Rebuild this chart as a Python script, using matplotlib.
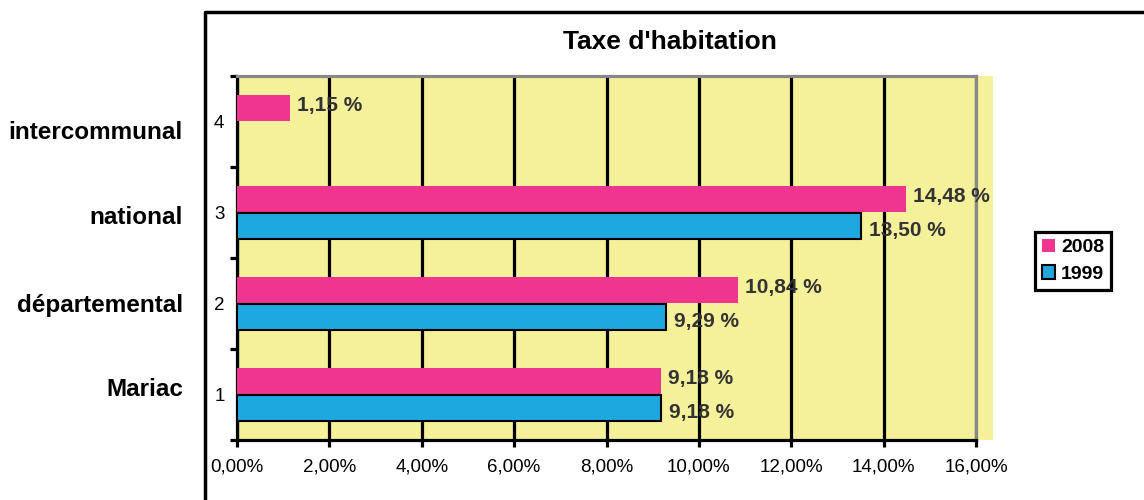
import numpy as np
import matplotlib.pyplot as plt
from matplotlib.patches import Rectangle
from matplotlib.lines import Line2D
from matplotlib.transforms import blended_transform_factory

plt.rcParams['font.family'] = ['Liberation Sans', 'DejaVu Sans']

# data
categories = ['Mariac', 'départemental', 'national', 'intercommunal']
tick_names = ['1', '2', '3', '4']
vals_2008 = [9.18, 10.84, 14.48, 1.15]
vals_1999 = [9.18, 9.29, 13.50, None]
labels_2008 = ['9,18 %', '10,84 %', '14,48 %', '1,15 %']
labels_1999 = ['9,18 %', '9,29 %', '13,50 %', '']

pink = '#EE3590'
blue = '#1EA8E0'
yellow = '#F5F19A'

fig = plt.figure(figsize=(11.44, 5.0), dpi=100)
ax = fig.add_axes([237/1144, 1-440/500, (976-237)/1144, (440-76)/500])

# yellow area, a bit wider than the plot
fig.patches.append(Rectangle((237/1144, 1-440/500), (993-237)/1144, (440-76)/500,
                             transform=fig.transFigure, facecolor=yellow,
                             edgecolor='none', zorder=-5))
ax.set_facecolor('none')

# outer black frame (left and top)
fig.add_artist(Line2D([205/1144, 205/1144, 1.0], [0.0, 1-12/500, 1-12/500],
                      transform=fig.transFigure, color='black', lw=2.5))

y = np.arange(1, 5)
h = 0.286
off = 0.148
for i in range(4):
    ax.barh(y[i] + off, vals_2008[i], height=h, color=pink, edgecolor='none', zorder=3)
    ax.annotate(labels_2008[i], (vals_2008[i], y[i] + off), xytext=(5, 1.5),
                textcoords='offset points', va='center', ha='left',
                fontsize=15, fontweight='bold', color='#333333', zorder=5)
    if vals_1999[i] is not None:
        ax.barh(y[i] - off, vals_1999[i], height=h, color=blue, edgecolor='black',
                linewidth=1.5, zorder=3)
        ax.annotate(labels_1999[i], (vals_1999[i], y[i] - off), xytext=(6, -3.5),
                    textcoords='offset points', va='center', ha='left',
                    fontsize=15, fontweight='bold', color='#333333', zorder=5)

ax.set_xlim(0, 16)
ax.set_ylim(0.5, 4.5)
ticks = np.arange(0, 17, 2)
ax.set_xticks(ticks)
ax.set_xticklabels([('%.2f%%' % v).replace('.', ',') for v in ticks])
ax.xaxis.grid(True, color='black', lw=2.3, zorder=1)
ax.set_axisbelow(True)

ax.set_yticks(y)
ax.set_yticklabels(tick_names)
ax.set_yticks(np.arange(0.5, 4.6, 1), minor=True)
ax.tick_params(axis='y', which='major', length=0, pad=9, labelsize=13.5)
ax.tick_params(axis='y', which='minor', length=5, width=2.3, direction='out')
ax.tick_params(axis='x', length=5, width=2.3, labelsize=13.5, pad=8)

for s in ['left', 'bottom']:
    ax.spines[s].set_color('black')
    ax.spines[s].set_linewidth(2.3)
for s in ['top', 'right']:
    ax.spines[s].set_color('#888888')
    ax.spines[s].set_linewidth(2.3)

# category names
name_shift = [-0.05, 0.02, 0.06, 0.125]
trans = blended_transform_factory(fig.transFigure, ax.transData)
for i, name in enumerate(categories):
    ax.text(183/1144, y[i] - name_shift[i], name, transform=trans,
            ha='right', va='center', fontsize=17.5, fontweight='bold', color='black')

fig.text(670/1144, 1-42/500, "Taxe d'habitation", ha='center', va='center',
         fontsize=19, fontweight='bold')

handles = [Rectangle((0, 0), 1, 1, facecolor=pink, edgecolor='none'),
           Rectangle((0, 0), 1, 1, facecolor=blue, edgecolor='black', lw=1.5)]
leg = fig.legend(handles, ['2008', '1999'], loc='upper left',
                 bbox_to_anchor=(1035/1144, 1-232/500), borderaxespad=0,
                 fancybox=False, framealpha=1, edgecolor='black',
                 prop={'weight': 'bold', 'size': 14}, handlelength=0.7,
                 handleheight=0.7, handletextpad=0.3, borderpad=0.35,
                 labelspacing=0.45)
leg.get_frame().set_linewidth(2.3)

fig.savefig('out.png', dpi=100)
